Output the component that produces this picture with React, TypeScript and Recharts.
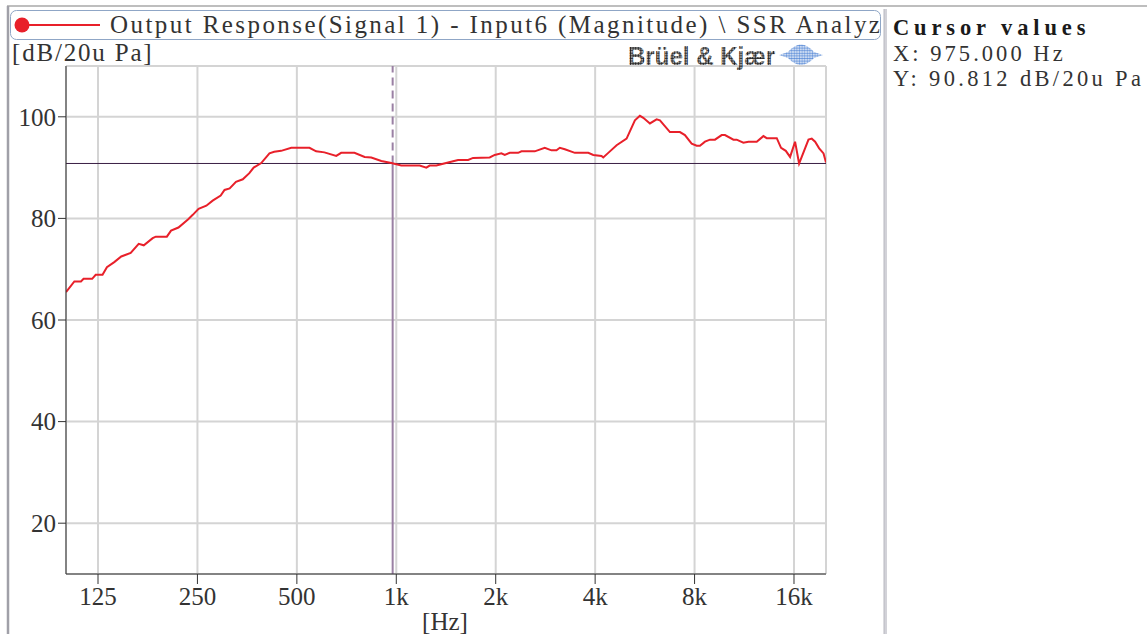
import React from 'react';
import { LineChart, Line, XAxis, YAxis, CartesianGrid, ReferenceLine } from 'recharts';

const freqHz = [
  100, 106, 111, 113, 120, 123, 129, 133, 140, 147, 157, 166, 172, 183, 187, 202, 208, 219, 234, 242,
  252, 266, 278, 294, 302, 313, 327, 343, 359, 370, 390, 413, 427, 448, 481, 546, 572, 606, 658, 681,
  747, 802, 840, 901, 966, 1035, 1177, 1233, 1262, 1322, 1435, 1538, 1650, 1708, 1918, 1986, 2081, 2130,
  2205, 2339, 2393, 2626, 2815, 2950, 3055, 3127, 3238, 3472, 3813, 3948, 4182, 4233, 4383, 4646, 4980,
  5278, 5465, 5596, 5860, 6140, 6284, 6738, 7224, 7480, 7839, 8118, 8306, 8603, 8907, 9222, 9665, 9890,
  10490, 10730, 11240, 11650, 12340, 12930, 13230, 14190, 14620, 15110, 15570, 16120, 16580, 17700,
  18110, 18540, 19070, 19660, 20000,
];
const levelDb = [
  65.5, 67.6, 67.6, 68.1, 68.1, 68.9, 68.9, 70.4, 71.4, 72.5, 73.2, 75.0, 74.7, 76.1, 76.4, 76.4, 77.6, 78.2, 79.8, 80.7,
  81.9, 82.5, 83.5, 84.5, 85.6, 85.9, 87.2, 87.7, 88.9, 90.0, 90.9, 92.8, 93.1, 93.3, 93.9, 93.9, 93.2, 93.0, 92.3, 92.9,
  92.9, 92.1, 92.0, 91.3, 90.9, 90.4, 90.4, 90.0, 90.4, 90.4, 91.0, 91.5, 91.5, 91.9, 92.0, 92.5, 92.8, 92.5,
  92.9, 92.9, 93.2, 93.2, 93.9, 93.4, 93.4, 93.9, 93.6, 92.9, 92.9, 92.5, 92.3, 92.0, 92.9, 94.4, 95.7,
  99.3, 100.2, 99.8, 98.7, 99.5, 99.3, 97.0, 97.0, 96.4, 94.7, 94.3, 94.3, 95.1, 95.5, 95.5, 96.4, 96.4,
  95.5, 95.5, 94.9, 95.1, 95.1, 96.2, 95.8, 95.8, 93.9, 93.3, 92.1, 95.1, 90.8, 95.5,
  95.7, 95.1, 93.8, 92.8, 91.0,
];
const xTicks = [125, 250, 500, 1000, 2000, 4000, 8000, 16000];
const xTickLabels = ['125', '250', '500', '1k', '2k', '4k', '8k', '16k'];
const yTicks = [20, 40, 60, 80, 100];
const cursorX = 975;
const cursorY = 90.812;
const seriesName = 'Output Response(Signal 1) - Input6 (Magnitude) \\ SSR Analyz';
const yUnit = '[dB/20u Pa]';
const xUnit = '[Hz]';
const cursorTitle = 'Cursor values';
const cursorXText = 'X: 975.000 Hz';
const cursorYText = 'Y: 90.812 dB/20u Pa';

const data = freqHz.map((f, i) => ({ f, v: levelDb[i] }));

const SERIF = '"Liberation Serif", "DejaVu Serif", serif';
const TXT = '#333333';
const CHAR_W = 13.05;

function MonoText(props: { x: number; y: number; text: string; size?: number; bold?: boolean; charW?: number; fill?: string }) {
  const { x, y, text, size = 25, bold = false, charW = CHAR_W, fill = TXT } = props;
  return (
    <text
      x={x}
      y={y}
      fontFamily={SERIF}
      fontSize={size}
      fontWeight={bold ? 'bold' : 'normal'}
      fill={fill}
      textLength={text.length * charW}
      lengthAdjust="spacing"
      style={{ whiteSpace: 'pre' }}
    >
      {text}
    </text>
  );
}

export default function App() {
  return (
    <div style={{ position: 'relative', width: 1147, height: 634, background: '#fff', overflow: 'hidden' }}>
      <style>{'body{margin:0;overflow:hidden;background:#fff}'}</style>
      <div style={{ position: 'absolute', left: 0, top: 0 }}>
        <LineChart width={890} height={634} data={data} margin={{ top: 66, left: 6, right: 64, bottom: 20 }}>
          <CartesianGrid stroke="#d4d4d4" strokeWidth={2} />
          <XAxis
            dataKey="f"
            type="number"
            scale="log"
            domain={[100, 20000]}
            allowDataOverflow
            ticks={xTicks}
            interval={0}
            height={40}
            tickFormatter={(v: number) => xTickLabels[xTicks.indexOf(v)] ?? String(v)}
            tick={{ fontFamily: SERIF, fontSize: 25, fill: TXT }}
            tickSize={10}
            tickMargin={3}
            axisLine={{ stroke: '#333', strokeWidth: 1 }}
            tickLine={{ stroke: '#333', strokeWidth: 1 }}
          />
          <YAxis
            type="number"
            domain={[10, 110]}
            allowDataOverflow
            ticks={yTicks}
            interval={0}
            width={60}
            tick={{ fontFamily: SERIF, fontSize: 25, fill: TXT }}
            tickSize={8}
            tickMargin={2}
            axisLine={{ stroke: '#333', strokeWidth: 1 }}
            tickLine={{ stroke: '#333', strokeWidth: 1 }}
          />
          <ReferenceLine y={cursorY} stroke="#3a1f44" strokeWidth={1} />
          <ReferenceLine
            segment={[{ x: cursorX, y: cursorY }, { x: cursorX, y: 110 }]}
            stroke="#9a80a4"
            strokeWidth={2}
            strokeDasharray="8 5"
          />
          <ReferenceLine
            segment={[{ x: cursorX, y: 10 }, { x: cursorX, y: cursorY }]}
            stroke="#9a80a4"
            strokeWidth={2}
          />
          <Line
            type="linear"
            dataKey="v"
            stroke="#e8202a"
            strokeWidth={2}
            dot={false}
            isAnimationActive={false}
          />
        </LineChart>
      </div>
      <svg
        width={1147}
        height={634}
        style={{ position: 'absolute', left: 0, top: 0, pointerEvents: 'none' }}
      >
        <defs>
          <pattern id="dotsGray" patternUnits="userSpaceOnUse" width={2.6} height={2.6}>
            <circle cx={1.3} cy={1.3} r={1.2} fill="#1e1e1e" />
          </pattern>
          <pattern id="dotsBlue" patternUnits="userSpaceOnUse" width={2.6} height={2.6}>
            <circle cx={1.3} cy={1.3} r={1.15} fill="#5f8fd8" />
          </pattern>
          <clipPath id="legendClip">
            <rect x={10} y={10} width={870} height={30} />
          </clipPath>
        </defs>
        {/* frame */}
        <line x1={7} y1={6} x2={1147} y2={6} stroke="#a8a8a8" strokeWidth={1.5} />
        <line x1={8} y1={6} x2={8} y2={634} stroke="#a0a0a8" strokeWidth={2.5} />
        <rect x={884} y={9} width={3} height={625} fill="#d2d2d8" />
        <line x1={884} y1={9} x2={884} y2={634} stroke="#b8b8c0" strokeWidth={1} />
        {/* legend */}
        <rect x={10.5} y={10.5} width={870} height={29} rx={6} fill="#fff" stroke="#8fa6c6" strokeWidth={1} />
        <line x1={22} y1={25} x2={100} y2={25} stroke="#e8202a" strokeWidth={2} />
        <circle cx={22} cy={25} r={7.5} fill="#e8202a" />
        <g clipPath="url(#legendClip)">
          <MonoText x={110} y={33} text={seriesName} />
        </g>
        {/* unit labels */}
        <MonoText x={12} y={61} text={yUnit} charW={12.7} />
        <text x={445} y={630} textAnchor="middle" fontFamily={SERIF} fontSize={25} fill={TXT}>
          {xUnit}
        </text>
        {/* logo */}
        <text
          x={628}
          y={65}
          fontFamily='"Liberation Sans", Arial, sans-serif'
          fontWeight="bold"
          fontSize={26}
          textLength={147}
          lengthAdjust="spacingAndGlyphs"
          fill="url(#dotsGray)"
        >
          Brüel &amp; Kjær
        </text>
        <path d="M779,55 L788,52 Q801,37 814,52 L823,55 L814,58 Q801,72 788,58 Z" fill="url(#dotsBlue)" />
        {/* cursor values */}
        <MonoText x={893} y={35} text={cursorTitle} bold size={22.5} charW={14.8} fill="#1a1a1a" />
        <MonoText x={893} y={61} text={cursorXText} size={22.5} />
        <MonoText x={893} y={86} text={cursorYText} size={22.5} />
      </svg>
    </div>
  );
}
